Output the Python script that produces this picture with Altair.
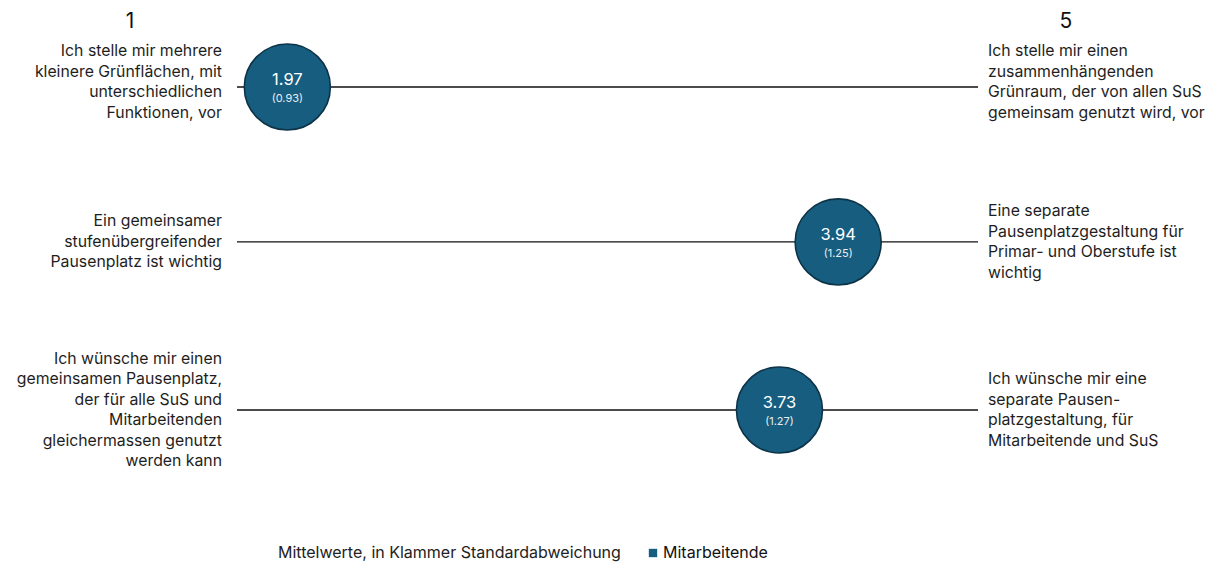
import altair as alt
import pandas as pd

left_labels = [
    "Ich stelle mir mehrere\nkleinere Grünflächen, mit\nunterschiedlichen\nFunktionen, vor",
    "Ein gemeinsamer\nstufenübergreifender\nPausenplatz ist wichtig",
    "Ich wünsche mir einen\ngemeinsamen Pausenplatz,\nder für alle SuS und\nMitarbeitenden\ngleichermassen genutzt\nwerden kann",
]
right_labels = [
    "Ich stelle mir einen\nzusammenhängenden\nGrünraum, der von allen SuS\ngemeinsam genutzt wird, vor",
    "Eine separate\nPausenplatzgestaltung für\nPrimar- und Oberstufe ist\nwichtig",
    "Ich wünsche mir eine\nseparate Pausen-\nplatzgestaltung, für\nMitarbeitende und SuS",
]
means = [1.97, 3.94, 3.73]
sds = [0.93, 1.25, 1.27]
series = ["Mitarbeitende"] * 3
scale_ends = ["1", "5"]
footer_title = "Mittelwerte, in Klammer Standardabweichung"

FONT = "Inter"
FILL = "#175d7f"
LFS = 15.8
LH = 20.5

df = pd.DataFrame({
    "row": [0, 1, 2],
    "left": left_labels,
    "right": right_labels,
    "mean": means,
    "sd": sds,
    "series": series,
})
df["mean_txt"] = df["mean"].map(lambda v: f"{v:.2f}")
df["sd_txt"] = df["sd"].map(lambda v: f"({v:.2f})")

W, H = 1204, 556
xs = alt.Scale(domain=[1.79, 4.44], range=[229, 970])
ys = alt.Scale(type="pow", exponent=1.06, domain=[0, 2], range=[79, 402])

base = alt.Chart(df)
y = alt.Y("row:Q", scale=ys, axis=None)
x = alt.X("mean:Q", scale=xs, axis=None)

rules = base.mark_rule(color="#111111", strokeWidth=1.4).encode(
    x=alt.value(229), x2=alt.value(970), y=y
)

circles = base.mark_point(
    shape="circle", filled=True, size=7400, opacity=1,
    stroke="#0c3347", strokeWidth=1.6,
).encode(
    x=x,
    y=y,
    fill=alt.Fill(
        "series:N",
        scale=alt.Scale(range=[FILL]),
        legend=alt.Legend(
            title=footer_title, orient="none", legendX=270, legendY=537,
            direction="horizontal", titleOrient="left", titleFontSize=16,
            titleFontWeight="normal", titleFont=FONT, titleColor="#222222",
            titleLimit=600, labelLimit=300,
            labelFont=FONT, labelFontSize=16, labelColor="#111111",
            symbolType="square", symbolSize=70, symbolStrokeWidth=0,
            titlePadding=24, labelOffset=2, titleBaseline="middle",
        ),
    ),
)

mean_text = base.mark_text(
    color="white", font=FONT, fontSize=16.5, dy=-7
).encode(x=x, y=y, text="mean_txt:N")

sd_text = base.mark_text(
    color="#e6eef3", font=FONT, fontSize=11, dy=12
).encode(x=x, y=y, text="sd_txt:N")

extra = [-5, 0, 0]
label_layers = []
for i in range(3):
    for col, align, xpos in (("left", "right", 214), ("right", "left", 980)):
        n = (left_labels if col == "left" else right_labels)[i].count("\n") + 1
        label_layers.append(
            base.transform_filter(alt.datum.row == i).mark_text(
                align=align, baseline="middle", font=FONT, fontSize=LFS,
                lineBreak="\n", lineHeight=LH, color="#1e1e1e",
                dy=-(n - 1) * LH / 2 + extra[i],
            ).encode(x=alt.value(xpos), y=y, text=f"{col}:N")
        )

ends_df = pd.DataFrame({"lab": scale_ends, "idx": [0, 1]})
ends_layers = []
for i, xpos in ((0, 122), (1, 1058)):
    ends_layers.append(
        alt.Chart(ends_df).transform_filter(alt.datum.idx == i).mark_text(
            font=FONT, fontSize=21, baseline="middle", color="#111111"
        ).encode(x=alt.value(xpos), y=alt.value(14), text="lab:N")
    )

chart = alt.layer(rules, circles, mean_text, sd_text, *label_layers, *ends_layers).properties(
    width=W, height=H, autosize=alt.AutoSizeParams(type="none"), padding=0,
).configure(background="white", view=alt.ViewConfig(stroke=None))

chart.save("out.html", embed_options={"renderer": "svg", "actions": False})
